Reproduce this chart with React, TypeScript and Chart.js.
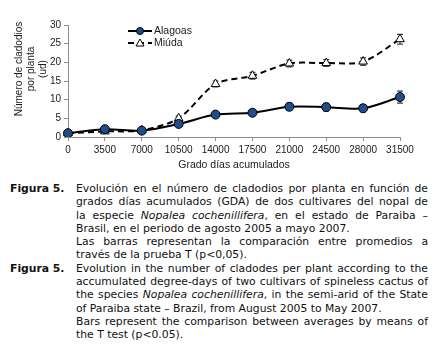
import React, { useEffect, useRef } from "react";
import { Chart, registerables } from "chart.js";

Chart.register(...registerables);

const categories = ["0", "3500", "7000", "10500", "14000", "17500", "21000", "24500", "28000", "31500"];
const alagoas = [1.0, 2.1, 1.7, 3.5, 6.0, 6.5, 8.1, 8.0, 7.7, 10.7];
const miuda = [1.0, 1.5, 1.8, 5.0, 14.2, 16.4, 19.7, 19.8, 20.2, 26.2];
const alagoasErr = [0.4, 0.5, 0.3, 0.5, 0.7, 0.8, 1.0, 1.0, 0.9, 1.6];
const miudaErr = [0.3, 0.4, 0.4, 0.6, 0.8, 0.9, 0.9, 0.9, 1.0, 1.3];
const seriesNames = ["Alagoas", "Miúda"];
const yTitleLines = ["Número de cladodios", "por planta", "(ud)"];
const xTitle = "Grado días acumulados";
const yMin = 0;
const yMax = 30;
const yStep = 5;

const TEXT = "#1a1a1a";
const AXIS = "#8c8c8c";
const BLUE = "#1f4e8c";
const FONT = "'Liberation Sans', Arial, sans-serif";

const errorBarPlugin = {
  id: "errorBars",
  beforeDatasetsDraw(chart: any) {
    const ctx = chart.ctx;
    const y = chart.scales.y;
    const errs = [alagoasErr, miudaErr];
    ctx.save();
    ctx.strokeStyle = "#444444";
    ctx.lineWidth = 1.2;
    chart.data.datasets.forEach((ds: any, di: number) => {
      const meta = chart.getDatasetMeta(di);
      meta.data.forEach((pt: any, i: number) => {
        const v = ds.data[i];
        const e = errs[di][i];
        const x = pt.x;
        const y1 = y.getPixelForValue(v + e);
        const y2 = y.getPixelForValue(v - e);
        ctx.beginPath();
        ctx.moveTo(x, y1);
        ctx.lineTo(x, y2);
        ctx.moveTo(x - 3, y1);
        ctx.lineTo(x + 3, y1);
        ctx.moveTo(x - 3, y2);
        ctx.lineTo(x + 3, y2);
        ctx.stroke();
      });
    });
    ctx.restore();
  },
};

const extrasPlugin = {
  id: "extras",
  afterDraw(chart: any) {
    const ctx = chart.ctx;
    const area = chart.chartArea;
    ctx.save();
    ctx.fillStyle = TEXT;
    ctx.font = `10px ${FONT}`;
    ctx.textAlign = "center";
    ctx.textBaseline = "middle";
    const cy = area.top + 44;
    ctx.translate(0, cy);
    ctx.rotate(-Math.PI / 2);
    yTitleLines.forEach((line, i) => {
      ctx.fillText(line, 0, 19 + i * 12);
    });
    ctx.restore();

    ctx.save();
    const lx = area.left + 60;
    const ly = area.top + 6;
    const items = chart.data.datasets;
    items.forEach((ds: any, i: number) => {
      const yy = ly + i * 12;
      ctx.strokeStyle = "#000";
      ctx.lineWidth = 2;
      ctx.setLineDash(ds.borderDash || []);
      ctx.beginPath();
      ctx.moveTo(lx, yy);
      ctx.lineTo(lx + 24, yy);
      ctx.stroke();
      ctx.setLineDash([]);
      ctx.lineWidth = 1;
      const mx = lx + 12;
      if (ds.pointStyle === "triangle") {
        ctx.fillStyle = "#ffffff";
        ctx.strokeStyle = "#000";
        ctx.beginPath();
        ctx.moveTo(mx, yy - 4);
        ctx.lineTo(mx + 4, yy + 3);
        ctx.lineTo(mx - 4, yy + 3);
        ctx.closePath();
        ctx.fill();
        ctx.stroke();
      } else {
        ctx.fillStyle = BLUE;
        ctx.strokeStyle = "#000";
        ctx.beginPath();
        ctx.arc(mx, yy, 3.5, 0, Math.PI * 2);
        ctx.fill();
        ctx.stroke();
      }
      ctx.fillStyle = TEXT;
      ctx.font = `10.5px ${FONT}`;
      ctx.textAlign = "left";
      ctx.textBaseline = "middle";
      ctx.fillText(seriesNames[i], lx + 26, yy + 0.5);
    });
    ctx.restore();
  },
};

function ChartCanvas() {
  const ref = useRef<HTMLCanvasElement | null>(null);
  useEffect(() => {
    if (!ref.current) return;
    const chart = new Chart(ref.current, {
      type: "line",
      data: {
        labels: categories,
        datasets: [
          {
            label: seriesNames[0],
            data: alagoas,
            borderColor: "#000000",
            borderWidth: 2,
            tension: 0.3,
            pointStyle: "circle",
            pointRadius: 4.5,
            pointBackgroundColor: BLUE,
            pointBorderColor: "#000000",
            pointBorderWidth: 1,
            fill: false,
          },
          {
            label: seriesNames[1],
            data: miuda,
            borderColor: "#000000",
            borderWidth: 2,
            borderDash: [6, 4],
            tension: 0.3,
            pointStyle: "triangle",
            pointRadius: 5,
            pointBackgroundColor: "#ffffff",
            pointBorderColor: "#000000",
            pointBorderWidth: 1,
            fill: false,
          },
        ],
      },
      options: {
        animation: false,
        responsive: false,
        maintainAspectRatio: false,
        devicePixelRatio: 1,
        layout: { padding: { left: 0, right: 36, top: 25, bottom: 0 } },
        plugins: {
          legend: { display: false },
          tooltip: { enabled: false },
        },
        scales: {
          x: {
            type: "category",
            offset: false,
            grid: { display: true, drawOnChartArea: false, drawTicks: true, tickLength: 4, color: AXIS },
            border: { display: true, color: AXIS, width: 1 },
            ticks: {
              color: TEXT,
              font: { family: FONT, size: 10 },
              padding: 3,
              maxRotation: 0,
              autoSkip: false,
            },
            title: {
              display: true,
              text: xTitle,
              color: TEXT,
              font: { family: FONT, size: 10.5 },
              padding: { top: 0, bottom: 4 },
            },
            afterFit(scale: any) {
              scale.height = 38;
            },
          },
          y: {
            min: yMin,
            max: yMax,
            grid: { display: true, drawOnChartArea: false, drawTicks: true, tickLength: 4, color: AXIS },
            border: { display: true, color: AXIS, width: 1 },
            ticks: {
              stepSize: yStep,
              color: TEXT,
              font: { family: FONT, size: 10 },
              padding: 3,
            },
            afterFit(scale: any) {
              scale.width = 68;
            },
          },
        },
      },
      plugins: [errorBarPlugin, extrasPlugin],
    } as any);
    return () => chart.destroy();
  }, []);
  return <canvas ref={ref} width={436} height={175} style={{ width: 436, height: 175, display: "block" }} />;
}

const CAP_FONT = "'DejaVu Sans', Verdana, sans-serif";

type Line = { content: React.ReactNode; justify: boolean; label?: string };

const captionLines: Line[] = [
  { label: "Figura 5.", content: "Evolución en el número de cladodios por planta en función de", justify: true },
  { content: "grados días acumulados (GDA) de dos cultivares del nopal de", justify: true },
  { content: <>la especie <i>Nopalea cochenillifera</i>, en el estado de Paraiba –</>, justify: true },
  { content: "Brasil, en el periodo de agosto 2005 a mayo 2007.", justify: false },
  { content: "Las barras representan la comparación entre promedios a", justify: true },
  { content: "través de la prueba T (p<0,05).", justify: false },
  { label: "Figura 5.", content: "Evolution in the number of cladodes per plant according to the", justify: true },
  { content: "accumulated degree-days of two cultivars of spineless cactus of", justify: true },
  { content: <>the species <i>Nopalea cochenillifera</i>, in the semi-arid of the State</>, justify: true },
  { content: "of Paraiba state – Brazil, from August 2005 to May 2007.", justify: false },
  { content: "Bars represent the comparison between averages by means of", justify: true },
  { content: "the T test (p<0.05).", justify: false },
];

export default function App() {
  return (
    <div
      style={{
        position: "absolute",
        left: 0,
        top: 0,
        width: 436,
        height: 364,
        background: "#ffffff",
        overflow: "hidden",
      }}
    >
      <ChartCanvas />
      <div
        style={{
          position: "absolute",
          left: 0,
          top: 182,
          width: 436,
          fontFamily: CAP_FONT,
          fontSize: 10.8,
          lineHeight: "13.3px",
          color: "#111111",
        }}
      >
        {captionLines.map((l, i) => (
          <div key={i} style={{ position: "relative", height: 13.3 }}>
            {l.label ? (
              <span style={{ position: "absolute", left: 10, top: 0, fontWeight: "bold", whiteSpace: "nowrap" }}>
                {l.label}
              </span>
            ) : null}
            <div
              style={{
                position: "absolute",
                left: 76,
                top: 0,
                width: 352,
                textAlign: l.justify ? "justify" : "left",
                textAlignLast: l.justify ? "justify" : "left",
                whiteSpace: "normal",
              } as any}
            >
              {l.content}
            </div>
          </div>
        ))}
      </div>
    </div>
  );
}
